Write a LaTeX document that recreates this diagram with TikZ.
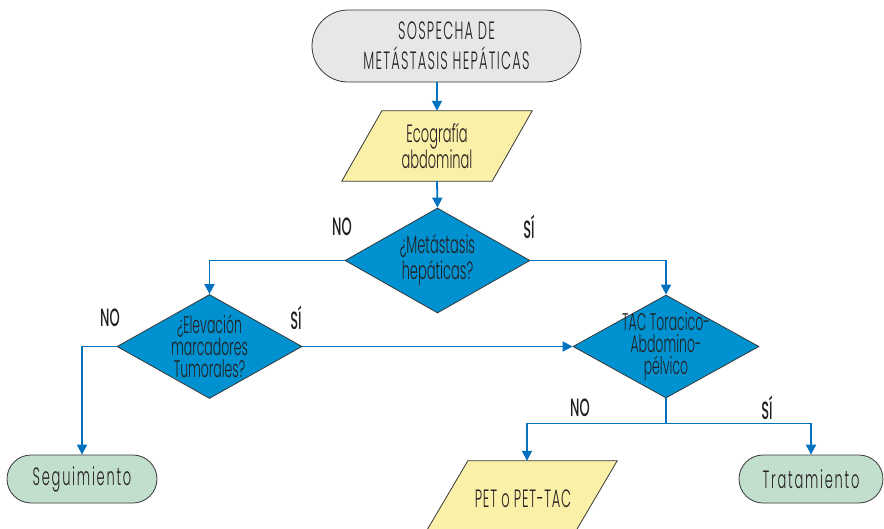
\documentclass[tikz,border=0pt]{standalone}
\usepackage{fontspec}
\setmainfont{Poppins}[FakeStretch=0.52, UprightFont=* Light, BoldFont=* Medium]
\usepackage{xcolor}
\usepackage{tikz}
\usetikzlibrary{shapes.geometric,shapes.misc,arrows.meta}

\definecolor{flowblue}{RGB}{0,114,192}
\definecolor{askblue}{RGB}{0,146,208}
\definecolor{startgray}{RGB}{230,231,232}
\definecolor{inputyellow}{RGB}{250,240,168}
\definecolor{endgreen}{RGB}{194,222,204}
\definecolor{edgegray}{RGB}{55,55,55}
\definecolor{inkgray}{RGB}{35,31,32}

\begin{document}
\begin{tikzpicture}[x=1pt,y=-1pt,
  every node/.style={text=inkgray, font=\fontsize{25}{20}\selectfont},
  terminal/.style={rounded rectangle, draw=edgegray, line width=0.8pt, inner sep=0pt, align=center},
  inputbody/.style={inner sep=0pt},
  inputbox/.style={draw=edgegray, line width=0.8pt, fill=inputyellow},
  question/.style={diamond, draw=edgegray, line width=0.8pt, fill=askblue, inner sep=0pt},
  shapetext/.style={align=center, inner sep=0pt},
  asktext/.style={align=center, inner sep=0pt, font=\fontsize{24}{22}\selectfont},
  answer/.style={font=\fontsize{25}{20}\selectfont\bfseries, inner sep=0pt},
  flow/.style={draw=flowblue, line width=1.8pt, -{Triangle[length=10pt,width=10pt]}},
  branch/.style={draw=flowblue, line width=1.8pt}]
\useasboundingbox (0,0) rectangle (884,528);
\clip (0,0) rectangle (884,528);

%Shape: Terminal
\node [terminal, fill=startgray, minimum width=269, minimum height=72,
  font=\fontsize{25}{30}\selectfont\addfontfeatures{LetterSpace=5}] (sospecha) at (446.5,46) {SOSPECHA DE\\METÁSTASIS HEPÁTICAS};
%Shape: Parallelogram
\node [inputbody, minimum width=150, minimum height=70] (eco) at (437,146) {};
\draw [inputbox] ([xshift=20]eco.north west) -- ([xshift=20]eco.north east) -- ([xshift=-20]eco.south east) -- ([xshift=-20]eco.south west) -- cycle;
\node [shapetext] (ecotxt) at (eco) {Ecografía\\abdominal};

%Shape: Diamond
\node [question, minimum width=185, minimum height=105] (meta) at (437.5,260.5) {};
\node [asktext, font=\fontsize{25}{26}\selectfont] (metatxt) at (meta) {¿Metástasis\\hepáticas?};
%Shape: Diamond
\node [question, minimum width=185, minimum height=104] (marc) at (209.5,346.5) {};
\node [asktext] (marctxt) at (marc) {¿Elevación\\marcadores\\Tumorales?};
%Shape: Diamond
\node [question, minimum width=186, minimum height=103] (tac) at (666,346.5) {};
\node [asktext] (tactxt) at (tac) {TAC Toracico-\\Abdomino-\\pélvico};

%Shape: Terminal
\node [terminal, fill=endgreen, minimum width=150, minimum height=48,
  font=\fontsize{25}{20}\selectfont\addfontfeatures{LetterSpace=7}] (seg) at (82,479) {Seguimiento};
%Shape: Parallelogram
\node [inputbody, minimum width=149, minimum height=76] (pet) at (520,499) {};
\draw [inputbox] ([xshift=22.5]pet.north west) -- ([xshift=22.5]pet.north east) -- ([xshift=-22.5]pet.south east) -- ([xshift=-22.5]pet.south west) -- cycle;
\node [shapetext, font=\fontsize{25}{20}\selectfont\addfontfeatures{LetterSpace=3}] (pettxt) at (523,499) {PET o PET-TAC};
%Shape: Terminal
\node [terminal, fill=endgreen, minimum width=144, minimum height=48,
  font=\fontsize{25}{20}\selectfont\addfontfeatures{LetterSpace=7}] (trat) at (811,479) {Tratamiento};

% Text Node
\node [answer] (no1) at (342,227) {NO};
\node [answer] (si1) at (529,227) {SÍ};
\node [answer] (no2) at (110,318) {NO};
\node [answer] (si2) at (296,318) {SÍ};
\node [answer] (no3) at (580,408) {NO};
\node [answer] (si3) at (767,408) {SÍ};

%Straight Lines
\draw [flow] (eco.center |- sospecha.south) -- (eco.north);
\draw [flow] (eco.south) -- (meta.north);
\draw [flow] (meta.west) -| (marc.north);
\draw [flow] (meta.east) -| (tac.north);
\draw [flow] (marc.west) -| (seg.north);
\draw [flow] (marc.east) -- (tac.west);
\coordinate (split) at ([yshift=-25]tac.south);
\draw [branch] (tac.south) -- (split);
\draw [flow] (split) -| ([xshift=7]pet.north);
\draw [flow] (split) -| (trat.north);
\end{tikzpicture}
\end{document}
